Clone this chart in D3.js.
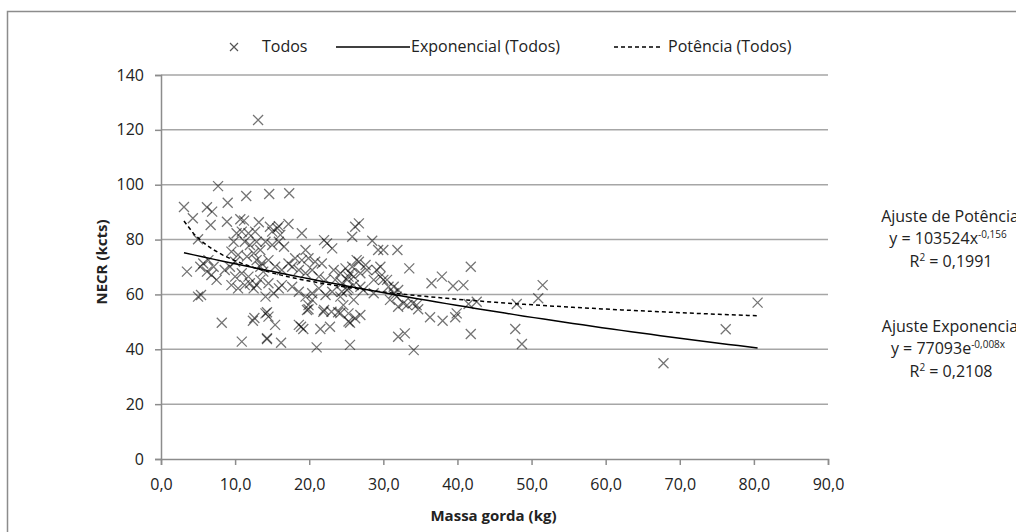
<!DOCTYPE html>
<html lang="pt">

<head>
  <meta charset="utf-8">
  <title>NECR vs Massa gorda</title>
  <script src="https://d3js.org/d3.v7.min.js"></script>
  <style>
    body { margin: 0; background: #fff; }
    svg { display: block; font-family: "Open Sans", Lato, sans-serif; }
    .tick text { font-size: 16px; fill: #222; }
  </style>
</head>

<body>
  <script>
    // data: Massa gorda (kg), NECR (kcts)
    const massaGorda = [
      13.1, 7.7, 11.5, 14.6, 17.3, 3.1, 6.2, 6.9, 9.0, 4.3, 6.7, 8.9, 10.7, 11.2, 13.2, 14.7, 15.9, 17.2, 19.0, 26.2,
      26.7, 25.8, 22.0, 22.4, 23.1, 5.0, 9.8, 10.2, 10.9, 11.8, 12.7, 11.3, 12.0, 12.9, 13.4, 9.5, 10.4, 11.6, 12.5, 3.5,
      5.3, 5.7, 6.4, 7.1, 6.2, 6.8, 7.5, 8.6, 9.3, 10.0, 10.0, 10.9, 11.8, 12.0, 12.9, 11.3, 9.5, 10.4, 12.5, 13.4,
      13.8, 13.4, 12.9, 5.0, 5.4, 8.2, 12.4, 12.6, 14.3, 15.4, 10.9, 14.3, 16.2, 18.9, 19.2, 19.9, 21.0, 21.5, 22.8, 21.9,
      23.0, 23.9, 25.5, 25.5, 15.0, 15.7, 16.1, 14.1, 15.0, 15.9, 16.6, 19.5, 18.1, 19.0, 19.9, 20.8, 21.7, 13.6, 14.5, 15.4,
      16.3, 17.2, 17.7, 18.6, 19.5, 20.4, 21.3, 22.2, 23.3, 24.2, 24.9, 25.8, 26.7, 27.6, 23.5, 24.4, 25.3, 26.0, 26.9, 14.5,
      15.2, 15.9, 14.1, 16.3, 17.7, 18.6, 19.5, 20.4, 21.3, 22.2, 23.1, 24.4, 25.3, 19.9, 20.4, 19.7, 22.0, 14.1, 14.5, 18.6,
      25.3, 26.2, 26.9, 14.3, 28.5, 29.3, 30.0, 31.9, 33.5, 41.8, 36.5, 37.9, 39.4, 40.8, 51.5, 50.9, 42.6, 41.5, 48.0, 36.3,
      38.0, 39.7, 39.9, 34.5, 34.7, 32.0, 32.9, 34.1, 41.8, 47.8, 48.7, 24.2, 32.0, 32.7, 80.5, 76.2, 67.8, 25.1, 26.0, 26.9,
      27.8, 28.7, 29.6, 30.5, 31.4, 31.8, 33.2, 34.0, 29.6, 29.1, 30.0, 30.7, 31.4, 32.0, 30.9, 26.4, 25.5, 27.3, 28.7, 25.1,
      24.2, 26.0, 24.6, 25.3
    ];
    const necr = [
      123.6, 99.5, 95.9, 96.6, 96.9, 91.9, 91.8, 90.2, 93.4, 87.8, 85.3, 86.5, 87.4, 86.9, 86.3, 84.7, 84.9, 85.7, 82.3, 84.7,
      85.9, 81.0, 79.8, 78.6, 76.8, 80.1, 79.2, 82.3, 82.9, 82.3, 82.9, 79.2, 78.0, 79.2, 76.2, 75.6, 74.4, 73.8, 75.0, 68.3,
      70.1, 71.3, 72.5, 70.1, 68.3, 67.1, 65.3, 68.9, 70.1, 71.9, 66.5, 67.7, 66.5, 64.1, 63.4, 63.4, 63.4, 62.2, 62.2, 65.3,
      68.3, 70.1, 72.5, 59.2, 59.8, 49.7, 50.4, 51.4, 53.5, 48.9, 42.8, 43.7, 42.4, 48.2, 47.4, 54.6, 40.7, 47.4, 48.2, 53.7,
      53.7, 53.5, 41.6, 49.7, 82.9, 84.1, 81.7, 79.2, 78.0, 79.2, 77.4, 76.2, 73.2, 72.5, 73.2, 71.9, 71.3, 71.3, 72.5, 70.1,
      68.9, 71.3, 70.1, 68.9, 67.7, 68.9, 66.5, 65.3, 68.9, 67.7, 69.5, 70.1, 71.9, 70.7, 65.3, 64.1, 66.5, 63.4, 62.8, 64.1,
      60.4, 62.2, 59.2, 63.4, 62.8, 61.0, 59.2, 60.4, 62.2, 59.8, 61.0, 61.0, 62.2, 56.1, 58.0, 54.3, 54.3, 53.1, 51.9, 48.9,
      50.1, 51.3, 52.5, 44.0, 79.6, 76.2, 76.2, 76.2, 69.5, 70.1, 64.1, 66.5, 63.1, 63.4, 63.4, 58.6, 57.3, 56.5, 56.5, 51.7,
      50.4, 51.7, 53.1, 56.1, 54.6, 44.6, 45.8, 39.7, 45.6, 47.4, 41.9, 53.2, 55.5, 56.8, 57.0, 47.3, 34.9, 65.3, 66.5, 67.7,
      68.9, 65.3, 66.5, 65.3, 62.8, 59.2, 56.1, 56.8, 70.1, 68.9, 65.3, 62.8, 60.4, 61.6, 58.0, 72.5, 67.7, 61.6, 60.4, 61.6,
      59.2, 58.0, 56.1, 53.1
    ];

    // trend line coefficients (in kcts) as shown in the chart
    const expoCoef = { a: 77.093, b: -0.008 };
    const powerCoef = { a: 103.524, b: -0.156 };

    const xTicks = [0, 10, 20, 30, 40, 50, 60, 70, 80, 90];
    const yTicks = [0, 20, 40, 60, 80, 100, 120, 140];
    const legendLabels = ["Todos", "Exponencial (Todos)", "Potência (Todos)"];
    const fitNotes = [
      { title: "Ajuste de Potência", base: "y = 103524x", exp: "-0,156", r2: "0,1991" },
      { title: "Ajuste Exponencia", base: "y = 77093e", exp: "-0,008x", r2: "0,2108" }
    ];

    //config
    const width = 1016, height = 532;
    const margin = { top: 75, right: 188, bottom: 73, left: 161 };
    const innerWidth = width - margin.left - margin.right;
    const innerHeight = height - margin.top - margin.bottom;

    const svg = d3.select("body").append("svg")
      .attr("width", width).attr("height", height);

    // chart area border (only top / left visible in the crop)
    svg.append("rect")
      .attr("x", 7.5).attr("y", 11.5)
      .attr("width", 1200).attr("height", 700)
      .attr("fill", "none").attr("stroke", "#8c8c8c").attr("stroke-width", 1.5);

    const g = svg.append("g")
      .attr("transform", `translate(${margin.left},${margin.top})`);

    const x = d3.scaleLinear().domain([0, 90]).range([0, innerWidth]);
    const y = d3.scaleLinear().domain([0, 140]).range([innerHeight, 0]);

    // gridlines
    g.append("g").selectAll("line")
      .data(yTicks.filter(d => d > 0))
      .join("line")
      .attr("x1", 0).attr("x2", innerWidth)
      .attr("y1", d => y(d)).attr("y2", d => y(d))
      .attr("stroke", "#a6a6a6").attr("stroke-width", 1.5);

    // axes
    const yAxis = g.append("g")
      .call(d3.axisLeft(y).tickValues(yTicks).tickSize(6).tickPadding(11).tickFormat(d3.format("d")));
    const xAxis = g.append("g")
      .attr("transform", `translate(0,${innerHeight})`)
      .call(d3.axisBottom(x).tickValues(xTicks).tickSize(6).tickPadding(14)
        .tickFormat(d => d3.format(".1f")(d).replace(".", ",")));
    [xAxis, yAxis].forEach(a => {
      a.select(".domain").attr("stroke", "#8c8c8c").attr("stroke-width", 1.5);
      a.selectAll(".tick line").attr("stroke", "#8c8c8c").attr("stroke-width", 1.5);
      a.selectAll("text").attr("font-family", "'Open Sans', sans-serif");
    });

    // scatter markers
    const points = massaGorda.map((m, i) => ({ x: m, y: necr[i] }));
    const crossPath = "M-5,-5L5,5M-5,5L5,-5";
    g.append("g").selectAll("path")
      .data(points)
      .join("path")
      .attr("transform", d => `translate(${x(d.x)},${y(d.y)})`)
      .attr("d", crossPath)
      .attr("fill", "none")
      .attr("stroke", "#000")
      .attr("stroke-opacity", 0.55)
      .attr("stroke-width", 1.3);

    // trend lines over the data extent
    const [xmin, xmax] = d3.extent(massaGorda);
    const xs = d3.range(60).map(i => xmin + (xmax - xmin) * i / 59);
    const line = d3.line().x(d => x(d[0])).y(d => y(d[1]));

    g.append("path")
      .datum(xs.map(v => [v, expoCoef.a * Math.exp(expoCoef.b * v)]))
      .attr("d", line)
      .attr("fill", "none").attr("stroke", "#000").attr("stroke-width", 1.5);

    g.append("path")
      .datum(xs.map(v => [v, powerCoef.a * Math.pow(v, powerCoef.b)]))
      .attr("d", line)
      .attr("fill", "none").attr("stroke", "#000").attr("stroke-width", 1.5)
      .attr("stroke-dasharray", "4,3");

    // axis titles
    svg.append("text")
      .attr("x", margin.left + innerWidth / 2 - 1).attr("y", 521)
      .attr("text-anchor", "middle")
      .attr("font-size", 15).attr("font-weight", "bold").attr("fill", "#222")
      .text("Massa gorda (kg)");
    svg.append("text")
      .attr("transform", "translate(107,262) rotate(-90)")
      .attr("text-anchor", "middle")
      .attr("font-size", 15).attr("font-weight", "bold").attr("fill", "#222")
      .text("NECR (kcts)");

    // legend
    const legend = svg.append("g").attr("font-size", 16).attr("fill", "#222");
    legend.append("path")
      .attr("transform", "translate(234,47)")
      .attr("d", "M-4,-4L4,4M-4,4L4,-4")
      .attr("stroke", "#555").attr("stroke-width", 1.2);
    legend.append("text").attr("x", 262).attr("y", 52).text(legendLabels[0]);
    legend.append("line")
      .attr("x1", 336).attr("x2", 410).attr("y1", 47).attr("y2", 47)
      .attr("stroke", "#000").attr("stroke-width", 1.5);
    legend.append("text").attr("x", 411).attr("y", 52).text(legendLabels[1]);
    legend.append("line")
      .attr("x1", 614).attr("x2", 663).attr("y1", 47).attr("y2", 47)
      .attr("stroke", "#000").attr("stroke-width", 1.5)
      .attr("stroke-dasharray", "4,3");
    legend.append("text").attr("x", 668).attr("y", 52).text(legendLabels[2]);

    // fit equations on the right
    const notes = svg.append("g").attr("font-size", 16).attr("fill", "#222")
      .attr("text-anchor", "middle");
    fitNotes.forEach((n, i) => {
      const top = 222 + i * 110;
      notes.append("text").attr("x", 950).attr("y", top).text(n.title);
      const eq = notes.append("text").attr("x", 948).attr("y", top + 22);
      eq.append("tspan").text(n.base);
      eq.append("tspan").attr("dy", -6).attr("font-size", 10).text(n.exp);
      const r = notes.append("text").attr("x", 951).attr("y", top + 45);
      r.append("tspan").text("R");
      r.append("tspan").attr("dy", -6).attr("font-size", 10).text("2");
      r.append("tspan").attr("dy", 6).text(" = " + n.r2);
    });
  </script>
</body>

</html>
